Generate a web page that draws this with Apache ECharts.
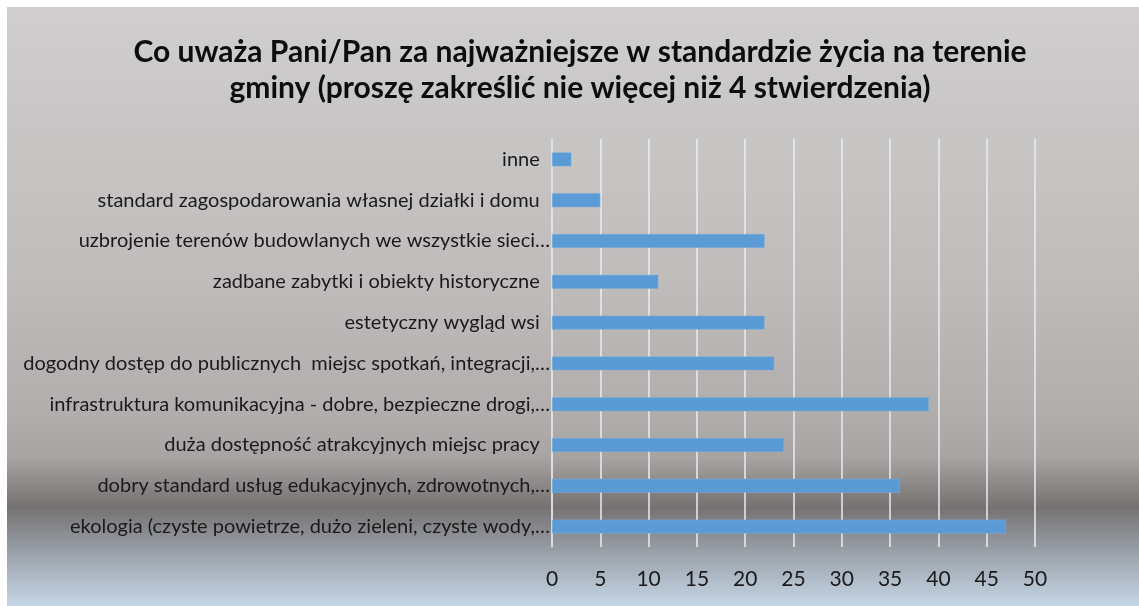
<!DOCTYPE html>
<html>
<head>
<meta charset="utf-8">
<script src="https://cdn.jsdelivr.net/npm/echarts@6/dist/echarts.min.js"></script>
<style>
html,body{margin:0;padding:0;background:#fff;}
#c{width:1139px;height:606px;}
</style>
</head>
<body>
<div id="c"></div>
<script>
const titleText = 'Co uważa Pani/Pan za najważniejsze w standardzie życia na terenie\ngminy (proszę zakreślić nie więcej niż 4 stwierdzenia)';
const categories = [
  'ekologia (czyste powietrze, dużo zieleni, czyste wody,…',
  'dobry standard usług edukacyjnych, zdrowotnych,…',
  'duża dostępność atrakcyjnych miejsc pracy  ',
  'infrastruktura komunikacyjna - dobre, bezpieczne drogi,…',
  'dogodny dostęp do publicznych  miejsc spotkań, integracji,…',
  'estetyczny wygląd wsi  ',
  'zadbane zabytki i obiekty historyczne  ',
  'uzbrojenie terenów budowlanych we wszystkie sieci…',
  'standard zagospodarowania własnej działki i domu  ',
  'inne  '
];
const values = [47, 36, 24, 39, 23, 22, 11, 22, 5, 2];
const xTicks = [0, 5, 10, 15, 20, 25, 30, 35, 40, 45, 50];

const chart = echarts.init(document.getElementById('c'), null, {renderer: 'canvas'});
const font = 'Lato, "Open Sans", "Liberation Sans", sans-serif';
chart.setOption({
  backgroundColor: '#ffffff',
  animation: false,
  graphic: [{
    type: 'rect', z: -100, silent: true,
    shape: {x: 7, y: 7, width: 1132, height: 599},
    style: {
      fill: new echarts.graphic.LinearGradient(0, 0, 0, 1, [
        {offset: 0, color: '#d0cece'},
        {offset: 0.45, color: '#bfbcbb'},
        {offset: 0.68, color: '#b1adac'},
        {offset: 0.75, color: '#a8a4a3'},
        {offset: 0.835, color: '#767272'},
        {offset: 0.9, color: '#959aa2'},
        {offset: 1, color: '#c5d6e6'}
      ])
    }
  }],
  title: {
    text: titleText,
    left: 575,
    top: 29,
    textAlign: 'center',
    textStyle: {fontFamily: font, fontSize: 30, fontWeight: 'bold', color: '#0d0d0d', lineHeight: 36}
  },
  grid: {left: 552, right: 104, top: 139, bottom: 59, containLabel: false},
  xAxis: {
    type: 'value', min: 0, max: 50, interval: 5,
    axisLine: {show: false}, axisTick: {show: false},
    splitLine: {show: true, lineStyle: {color: '#ececec', width: 1.5}},
    axisLabel: {
      margin: 22, color: '#1a1a1a', fontFamily: font, fontSize: 21,
      formatter: v => xTicks.includes(v) ? String(v) : ''
    }
  },
  yAxis: {
    type: 'category', data: categories,
    axisLine: {show: true, lineStyle: {color: '#e0e0e0', width: 1.5}},
    axisTick: {show: false},
    axisLabel: {margin: 2, color: '#1a1a1a', fontFamily: font, fontSize: 20}
  },
  series: [{
    type: 'bar', data: values, barWidth: '34%',
    itemStyle: {color: '#5b9bd5', borderColor: '#7aaedd', borderWidth: 0.5}
  }]
});
</script>
</body>
</html>
